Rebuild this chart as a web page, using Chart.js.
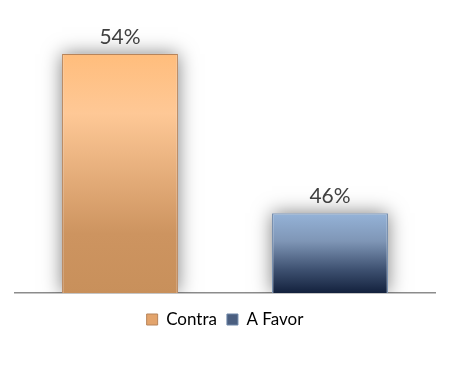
<!DOCTYPE html>
<html><head><meta charset="utf-8">
<script src="https://cdn.jsdelivr.net/npm/chart.js@4/dist/chart.umd.min.js"></script>
<style>html,body{margin:0;padding:0;background:#fff}#wrap{width:450px;height:370px}</style>
</head><body><div id="wrap"><canvas id="c" width="450" height="370"></canvas></div>
<script>
const categories = [''];
const seriesNames = ['Contra', 'A Favor'];
const contraValues = [54];
const aFavorValues = [46];
const valueLabels = ['54%', '46%'];

const gradStops = [
  [[0,'#FFBD7C'],[0.25,'#FEC896'],[0.75,'#CD9460'],[1,'#C8905B']],
  [[0,'#95B3D8'],[0.35,'#7F96B6'],[0.7,'#3F5272'],[1,'#13213D']]
];
function barGradient(c, di) {
  const chart = c.chart;
  const area = chart.chartArea;
  if (!area || !chart.scales.y) return gradStops[di][0][1];
  const v = chart.data.datasets[di].data[c.dataIndex] ?? chart.data.datasets[di].data[0];
  const top = chart.scales.y.getPixelForValue(v);
  const g = chart.ctx.createLinearGradient(0, top, 0, area.bottom);
  gradStops[di].forEach(s => g.addColorStop(s[0], s[1]));
  return g;
}

const shadowPlugin = {
  id: 'shadow',
  beforeDatasetsDraw(chart) {
    const ctx = chart.ctx;
    const bottom = chart.chartArea.bottom;
    ctx.save();
    ctx.beginPath();
    ctx.rect(0, 0, chart.width, bottom);
    ctx.clip();
    ctx.shadowColor = 'rgba(0,0,0,0.5)';
    ctx.shadowBlur = 18;
    ctx.fillStyle = '#ffffff';
    chart.data.datasets.forEach((ds, di) => {
      chart.getDatasetMeta(di).data.forEach(el => {
        const w = el.width;
        ctx.fillRect(el.x - w / 2, el.y, w, bottom - el.y);
      });
    });
    ctx.restore();
  },
  afterDatasetsDraw(chart) {
    const ctx = chart.ctx;
    ctx.save();
    ctx.font = '21px Lato, "Open Sans", sans-serif';
    ctx.fillStyle = '#404040';
    ctx.textAlign = 'center';
    ctx.textBaseline = 'alphabetic';
    chart.data.datasets.forEach((ds, di) => {
      chart.getDatasetMeta(di).data.forEach(el => {
        ctx.fillText(valueLabels[di], el.x, el.y - 10);
      });
    });
    ctx.restore();
  }
};

new Chart(document.getElementById('c'), {
  type: 'bar',
  data: {
    labels: categories,
    datasets: [
      { label: seriesNames[0], data: contraValues,
        backgroundColor: c => barGradient(c, 0),
        borderColor: '#B7845A', borderWidth: 1.2 },
      { label: seriesNames[1], data: aFavorValues,
        backgroundColor: c => barGradient(c, 1),
        borderColor: '#6E87A8', borderWidth: 1.2 }
    ]
  },
  options: {
    responsive: false,
    animation: false,
    devicePixelRatio: 1,
    categoryPercentage: 1.0,
    barPercentage: 0.552,
    layout: { padding: { left: 15, right: 15, top: 14, bottom: 32 } },
    scales: {
      x: { display: true, grid: { display: false, drawTicks: false },
           ticks: { display: false },
           border: { display: true, color: '#8C8C8C', width: 1.5 },
           afterFit(scale) { scale.height += 8; } },
      y: { display: false, min: 42, max: 56 }
    },
    plugins: {
      legend: {
        position: 'bottom',
        labels: {
          boxWidth: 11, boxHeight: 11,
          color: '#595959',
          font: { size: 17, family: 'Lato, "Open Sans", sans-serif' },
          padding: 10,
          generateLabels(chart) {
            return chart.data.datasets.map((ds, i) => ({
              text: ds.label,
              fillStyle: i === 0 ? '#E3A46C' : '#4B5F80',
              strokeStyle: i === 0 ? '#B7845A' : '#6E87A8',
              lineWidth: 1,
              datasetIndex: i,
              hidden: false
            }));
          }
        }
      },
      tooltip: { enabled: false }
    }
  },
  plugins: [shadowPlugin]
});
</script></body></html>
